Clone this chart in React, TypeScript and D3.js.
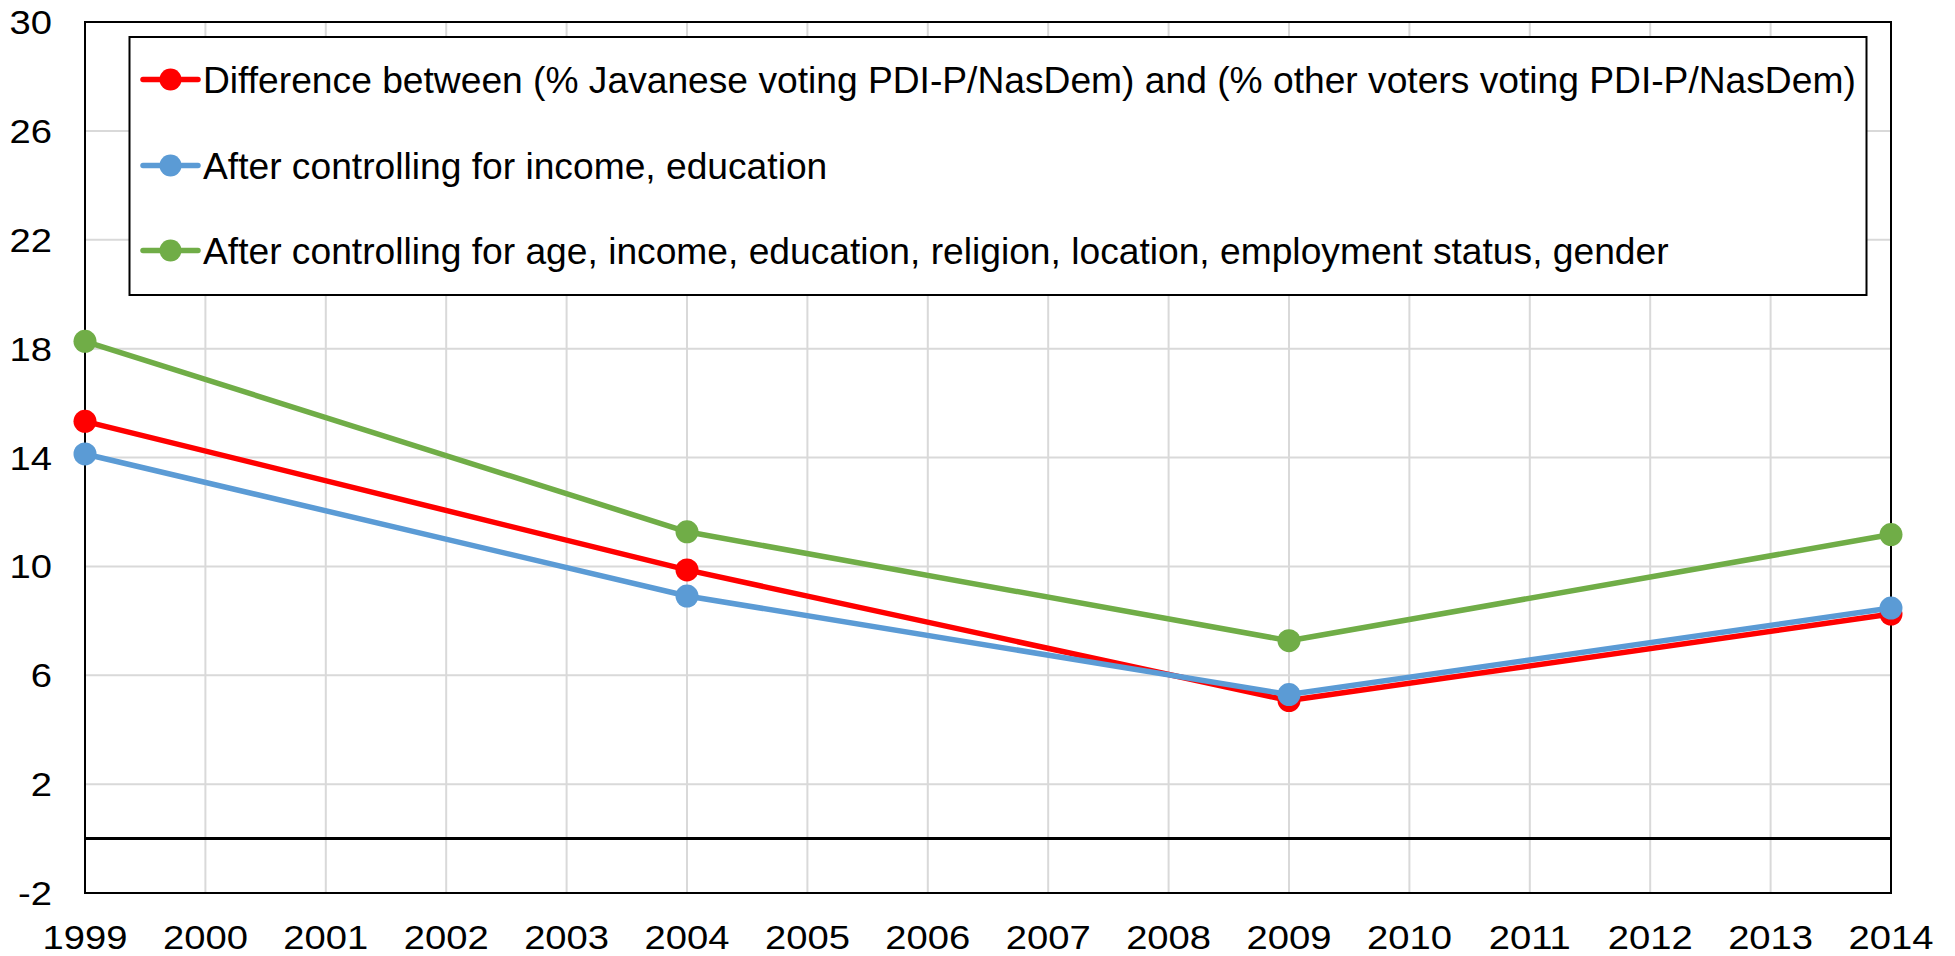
import React, { useEffect, useRef } from 'react';
import * as d3 from 'd3';

// chart data
const years = [1999, 2004, 2009, 2014];
const rawDiff = [15.33, 9.87, 5.07, 8.25];
const ctrlIncomeEdu = [14.13, 8.91, 5.29, 8.47];
const ctrlAll = [18.27, 11.27, 7.27, 11.17];
const seriesNames = [
  'Difference between (% Javanese voting PDI-P/NasDem) and (% other voters voting PDI-P/NasDem)',
  'After controlling for income, education',
  'After controlling for age, income, education, religion, location, employment status, gender',
];
const seriesColors = ['#ff0000', '#5b9bd5', '#70ad47'];
const yTicks = [-2, 2, 6, 10, 14, 18, 22, 26, 30];
const xTicks = d3.range(1999, 2015);

const W = 1955;
const H = 956;

const App: React.FC = () => {
  const svgRef = useRef<SVGSVGElement>(null);

  useEffect(() => {
    const svg = d3.select(svgRef.current);
    svg.selectAll('*').remove();

    const font = '"Liberation Sans", Arial, sans-serif';
    const margin = { left: 85, right: 64, top: 22, bottom: 63 };
    // tick labels in the original look a bit stretched sideways
    const stretch = 1.14;

    const x = d3.scaleLinear().domain([1999, 2014]).range([margin.left, W - margin.right]);
    const y = d3.scaleLinear().domain([-2, 30]).range([H - margin.bottom, margin.top]);

    svg.append('rect').attr('width', W).attr('height', H).attr('fill', '#fff');

    // gridlines
    svg.append('g')
      .selectAll('line.gx')
      .data(xTicks)
      .enter()
      .append('line')
      .attr('x1', d => x(d)).attr('x2', d => x(d))
      .attr('y1', y(30)).attr('y2', y(-2))
      .attr('stroke', '#d9d9d9')
      .attr('stroke-width', 2);

    svg.append('g')
      .selectAll('line.gy')
      .data(yTicks)
      .enter()
      .append('line')
      .attr('x1', x(1999)).attr('x2', x(2014))
      .attr('y1', d => y(d)).attr('y2', d => y(d))
      .attr('stroke', '#d9d9d9')
      .attr('stroke-width', 2);

    // plot border
    svg.append('rect')
      .attr('x', x(1999)).attr('y', y(30))
      .attr('width', x(2014) - x(1999))
      .attr('height', y(-2) - y(30))
      .attr('fill', 'none')
      .attr('stroke', '#000')
      .attr('stroke-width', 2);

    // zero line
    svg.append('line')
      .attr('x1', x(1999)).attr('x2', x(2014))
      .attr('y1', y(0)).attr('y2', y(0))
      .attr('stroke', '#000')
      .attr('stroke-width', 3);

    // tick labels
    svg.append('g')
      .selectAll('text')
      .data(yTicks)
      .enter()
      .append('text')
      .attr('transform', d => `translate(52,${y(d)}) scale(${stretch},1)`)
      .attr('dy', '0.36em')
      .attr('text-anchor', 'end')
      .attr('font-family', font)
      .attr('font-size', 33.5)
      .attr('fill', '#000')
      .text(d => d);

    svg.append('g')
      .selectAll('text')
      .data(xTicks)
      .enter()
      .append('text')
      .attr('transform', d => `translate(${x(d)},948.5) scale(${stretch},1)`)
      .attr('text-anchor', 'middle')
      .attr('font-family', font)
      .attr('font-size', 33.5)
      .attr('fill', '#000')
      .text(d => d);

    // series
    const allSeries = [rawDiff, ctrlIncomeEdu, ctrlAll];
    const line = d3.line<number>()
      .x((_, i) => x(years[i]))
      .y(d => y(d));

    // draw order: green, red, blue on top
    const order = [2, 0, 1];
    order.forEach(si => {
      const vals = allSeries[si];
      const g = svg.append('g');
      g.append('path')
        .datum(vals)
        .attr('d', line)
        .attr('fill', 'none')
        .attr('stroke', seriesColors[si])
        .attr('stroke-width', 5.5)
        .attr('stroke-linejoin', 'round');
      g.selectAll('circle')
        .data(vals)
        .enter()
        .append('circle')
        .attr('cx', (_, i) => x(years[i]))
        .attr('cy', d => y(d))
        .attr('r', 11.5)
        .attr('fill', seriesColors[si]);
    });

    // legend
    const leg = svg.append('g');
    leg.append('rect')
      .attr('x', 129.5).attr('y', 37)
      .attr('width', 1737).attr('height', 258)
      .attr('fill', '#fff')
      .attr('stroke', '#000')
      .attr('stroke-width', 2);

    const legY = [79.5, 165.5, 250.5];
    seriesNames.forEach((name, i) => {
      const row = leg.append('g').attr('transform', `translate(0,${legY[i]})`);
      row.append('line')
        .attr('x1', 143).attr('x2', 198)
        .attr('stroke', seriesColors[i])
        .attr('stroke-width', 5.5)
        .attr('stroke-linecap', 'round');
      row.append('circle')
        .attr('cx', 170.5).attr('r', 11)
        .attr('fill', seriesColors[i]);
      row.append('text')
        .attr('x', 203)
        .attr('dy', '0.36em')
        .attr('font-family', font)
        .attr('font-size', 37.2)
        .attr('fill', '#000')
        .text(name);
    });
  }, []);

  return (
    <svg
      ref={svgRef}
      width={W}
      height={H}
      style={{ position: 'absolute', left: 0, top: 0, display: 'block' }}
    />
  );
};

export default App;
